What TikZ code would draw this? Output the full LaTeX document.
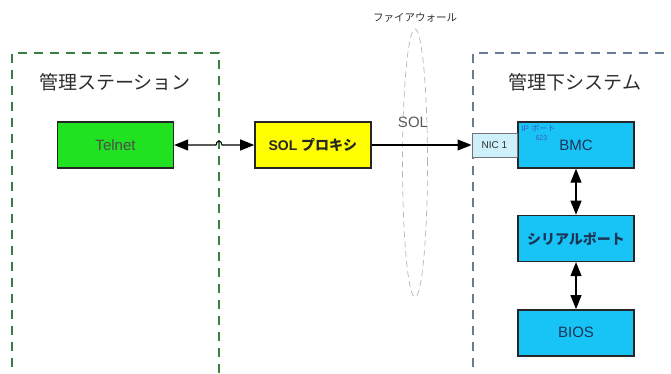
\documentclass[tikz,border=0pt]{standalone}
\usepackage{fontspec}
\setmainfont{Liberation Sans}
\newfontfamily\jpfont{Noto Sans CJK JP}
\usetikzlibrary{arrows.meta,positioning,shapes.geometric}
\definecolor{zonegreen}{RGB}{56,128,64}
\definecolor{zoneblue}{RGB}{104,124,150}
\definecolor{telgreen}{RGB}{32,226,32}
\definecolor{proxyyel}{RGB}{255,255,0}
\definecolor{bmccyan}{RGB}{24,196,245}
\definecolor{niccyan}{RGB}{206,240,250}
\definecolor{inkgray}{RGB}{45,45,45}
\definecolor{inknavy}{RGB}{28,52,88}
\definecolor{wallgray}{RGB}{180,180,180}
\definecolor{portblue}{RGB}{60,90,190}

\begin{document}
\begin{tikzpicture}[
  x=1pt,y=1pt,
  >={Triangle[length=14pt,width=11pt]},
  blk/.style={
    draw=black!85,
    line width=1.4pt,
    minimum width=116pt,
    minimum height=46pt,
    inner sep=0pt,
    align=center,
    font=\fontsize{15}{17}\selectfont
  },
  zone/.style={dash pattern=on 9pt off 7pt, line width=1.2pt},
  link/.style={line width=1.1pt}
]
\useasboundingbox (0,0) rectangle (671,373);

% zones
\draw[zone,draw=zonegreen] (12,-10) rectangle (219,320);
\coordinate (mgmtedge) at (219,320);
\draw[zone,draw=zoneblue] (473,-10) rectangle (690,320);
\node[font=\jpfont\fontsize{19}{21}\selectfont,text=inkgray] (mgmttitle) at (115,291) {管理ステーション};
\node[font=\jpfont\fontsize{19}{21}\selectfont,text=inkgray] (sysititle) at (575,291) {管理下システム};

% firewall
\node[draw=wallgray,ellipse,dash pattern=on 6pt off 4pt,line width=0.7pt,
  minimum width=25pt,minimum height=268pt,inner sep=0pt] (wall) at (415,210) {};
\node[font=\jpfont\fontsize{10.5}{12}\selectfont,text=inkgray,above=3pt of wall] (walltitle) {ファイアウォール};

% boxes
\node[blk,fill=telgreen,text=black!70] (tel) at (115.5,228) {Telnet};
\node[blk,fill=proxyyel,text=black!85,right=80pt of tel,
  font=\bfseries\fontsize{14}{16}\selectfont] (sol) {SOL {\jpfont プロキシ}};
\node[blk,fill=bmccyan,text=inknavy] (bmc) at (576,228) {BMC};
\node[draw=black!55,line width=0.8pt,fill=niccyan,minimum width=45pt,minimum height=24pt,
  inner sep=0pt,font=\fontsize{10}{12}\selectfont,text=inkgray,left=0pt of bmc] (nic) {NIC 1};
\node[blk,fill=bmccyan,text=inknavy,below=46pt of bmc,
  font=\bfseries\jpfont\fontsize{14}{16}\selectfont] (ser) {シリアルポート};
\node[blk,fill=bmccyan,text=inknavy,below=47pt of ser] (bios) {BIOS};

% port labels
\node[anchor=north west,inner sep=0pt,text=portblue,font=\fontsize{8}{9}\selectfont]
  (ipport) at ([xshift=4pt,yshift=-3pt]bmc.north west) {IP {\jpfont ポート}};
\node[anchor=north west,inner sep=0pt,text=portblue,font=\fontsize{7}{8}\selectfont]
  (portno) at ([xshift=18pt,yshift=-14pt]bmc.north west) {623};

% links
\coordinate (hop) at (mgmtedge |- tel.east);
\draw[link,<->] (tel.east) -- ([xshift=-3pt]hop)
  .. controls +(0,5) and +(0,5) .. ([xshift=3pt]hop) -- (sol.west);
\draw[link,->] (sol.east) -- (nic.west);
\node[font=\fontsize{15}{17}\selectfont,text=black!65] (sollabel) at (413,251) {SOL};
\draw[link,<->] (bmc.south) -- (ser.north);
\draw[link,<->] (ser.south) -- (bios.north);
\end{tikzpicture}
\end{document}
